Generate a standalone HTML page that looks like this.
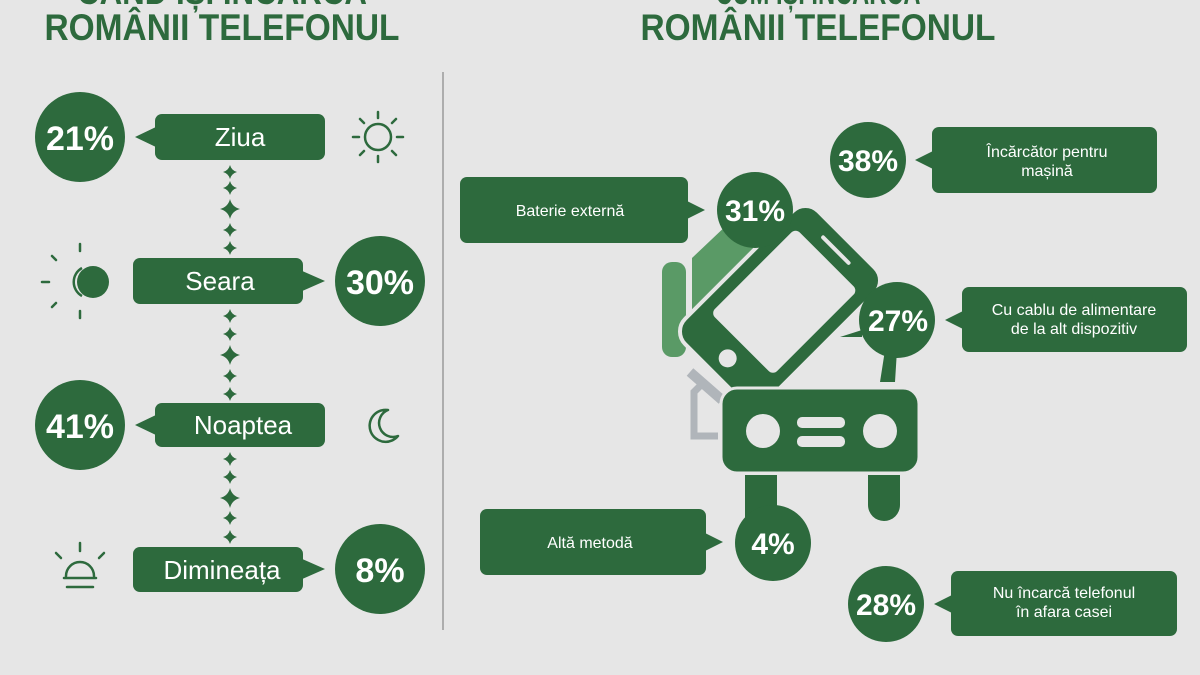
<!DOCTYPE html>
<html><head><meta charset="utf-8"><style>
html,body{margin:0;padding:0;background:#e6e6e6;}
svg{display:block;}
text{font-family:"Liberation Sans",sans-serif;}
</style></head><body>
<svg width="1200" height="675" viewBox="0 0 1200 675" xmlns="http://www.w3.org/2000/svg">
<defs>
<g id="d"><path d="M0,-7 Q1.5,-1.5 7,0 Q1.5,1.5 0,7 Q-1.5,1.5 -7,0 Q-1.5,-1.5 0,-7Z" fill="#2d6a3d"/></g>
<g id="D"><path d="M0,-10 Q2,-2 10,0 Q2,2 0,10 Q-2,2 -10,0 Q-2,-2 0,-10Z" fill="#2d6a3d"/></g>
</defs>
<rect width="1200" height="675" fill="#e6e6e6"/>
<g fill="#2d6a3d" font-weight="bold" font-size="37">
<text x="222" y="4" text-anchor="middle" textLength="290" lengthAdjust="spacingAndGlyphs">CÂND ÎȘI ÎNCARCĂ</text>
<text x="222" y="40" text-anchor="middle" textLength="355" lengthAdjust="spacingAndGlyphs">ROMÂNII TELEFONUL</text>
<text x="818" y="4" text-anchor="middle" textLength="205" lengthAdjust="spacingAndGlyphs">CUM ÎȘI ÎNCARCĂ</text>
<text x="818" y="40" text-anchor="middle" textLength="355" lengthAdjust="spacingAndGlyphs">ROMÂNII TELEFONUL</text>
</g>
<line x1="443" y1="72" x2="443" y2="630" stroke="#9a9a9a" stroke-width="1.5"/>

<g>
<use href="#d" x="230" y="172"/><use href="#d" x="230" y="188"/><use href="#D" x="230" y="209"/><use href="#d" x="230" y="230"/><use href="#d" x="230" y="248"/>
<use href="#d" x="230" y="316"/><use href="#d" x="230" y="334"/><use href="#D" x="230" y="355"/><use href="#d" x="230" y="376"/><use href="#d" x="230" y="394"/>
<use href="#d" x="230" y="459"/><use href="#d" x="230" y="477"/><use href="#D" x="230" y="498"/><use href="#d" x="230" y="518"/><use href="#d" x="230" y="537"/>
</g>

<g fill="#2d6a3d">
<circle cx="80" cy="137" r="45"/>
<rect x="155" y="114" width="170" height="46" rx="7"/><path d="M158,126 L135,137 L158,148Z"/>
<rect x="133" y="258" width="170" height="46" rx="7"/><path d="M300,270 L325,281 L300,292Z"/>
<circle cx="380" cy="281" r="45"/>
<circle cx="80" cy="425" r="45"/>
<rect x="155" y="403" width="170" height="44" rx="7"/><path d="M158,414 L135,425 L158,436Z"/>
<rect x="133" y="547" width="170" height="45" rx="7"/><path d="M300,558 L325,569 L300,580Z"/>
<circle cx="380" cy="569" r="45"/>
</g>
<g fill="#fff" font-weight="bold" font-size="34" text-anchor="middle">
<text x="80" y="150">21%</text><text x="380" y="294">30%</text><text x="80" y="438">41%</text><text x="380" y="582">8%</text>
</g>
<g fill="#fff" font-size="26" text-anchor="middle">
<text x="240" y="146">Ziua</text><text x="220" y="290">Seara</text><text x="243" y="434">Noaptea</text><text x="222" y="579">Dimineața</text>
</g>
<g stroke="#2d6a3d" stroke-width="2.5" fill="none" stroke-linecap="round">
<circle cx="378" cy="137" r="13"/>
<path d="M378,112v6M378,156v6M353,137h6M397,137h6M360,119l4,4M392,151l4,4M396,119l-4,4M364,151l-4,4"/>
<path d="M80,244v7M80,311v7M42,282h7M52,256l4,4M52,307l4,-4"/>
<path d="M80,543v8M56,553l5,5M104,553l-5,5M66,576 A14,14 0 0 1 94,576M64,578h32M67,587h26"/>
</g>
<circle cx="93" cy="282" r="16" fill="#2d6a3d"/>
<path d="M82,268 A16,16 0 0 0 82,296" stroke="#2d6a3d" stroke-width="2.5" fill="none"/>
<path d="M388,410 A16,16 0 1 0 398,436 A13,13 0 0 1 388,410Z" stroke="#2d6a3d" stroke-width="2.5" fill="none" stroke-linejoin="round"/>

<!-- right: illustration -->
<rect x="662" y="262" width="24" height="95" rx="10" fill="#5a9a66"/>
<path d="M692,258 L730,222 L780,238 Q795,250 782,265 L740,265 L692,310Z" fill="#5a9a66"/>
<path d="M690,372 L722,400" stroke="#b0b5ba" stroke-width="10"/>
<path d="M700,386 L694,392 L694,436 L718,436" stroke="#b0b5ba" stroke-width="7" fill="none"/>
<g transform="rotate(45 780 306)">
<rect x="722" y="212" width="116" height="188" rx="18" fill="#2d6a3d" stroke="#e6e6e6" stroke-width="4"/>
<rect x="736" y="240" width="88" height="120" rx="6" fill="#e6e6e6"/>
<circle cx="780" cy="380" r="9" fill="#e6e6e6"/>
<rect x="760" y="225" width="40" height="4" rx="2" fill="#e6e6e6"/>
</g>
<rect x="721" y="388" width="198" height="85" rx="16" fill="#2d6a3d" stroke="#e6e6e6" stroke-width="3"/>
<circle cx="763" cy="431" r="17" fill="#e6e6e6"/><circle cx="880" cy="431" r="17" fill="#e6e6e6"/>
<rect x="797" y="417" width="48" height="11" rx="5" fill="#e6e6e6"/><rect x="797" y="436" width="48" height="11" rx="5" fill="#e6e6e6"/>
<path d="M745,475 h32 v45 a16,16 0 0 1 -32,0Z M868,475 h32 v30 a16,16 0 0 1 -32,0Z" fill="#2d6a3d"/>
<path d="M885,350 L880,382 L895,382 L897,350Z" fill="#2d6a3d"/>

<g fill="#2d6a3d">
<circle cx="868" cy="160" r="38"/>
<rect x="932" y="127" width="225" height="66" rx="7"/><path d="M935,150 L915,160 L935,170Z"/>
<rect x="460" y="177" width="228" height="66" rx="7"/><path d="M685,200 L705,210 L685,220Z"/>
<circle cx="755" cy="210" r="38"/>
<circle cx="897" cy="320" r="38"/>
<rect x="962" y="287" width="225" height="65" rx="7"/><path d="M965,310 L945,320 L965,330Z"/>
<path d="M862,330 L840,337 L862,337Z"/>
<rect x="480" y="509" width="226" height="66" rx="7"/><path d="M703,532 L723,542 L703,552Z"/>
<circle cx="773" cy="543" r="38"/>
<circle cx="886" cy="604" r="38"/>
<rect x="951" y="571" width="226" height="65" rx="7"/><path d="M954,594 L934,604 L954,614Z"/>
</g>
<g fill="#fff" font-weight="bold" font-size="30" text-anchor="middle">
<text x="868" y="171">38%</text><text x="755" y="221">31%</text><text x="898" y="331">27%</text><text x="773" y="554">4%</text><text x="886" y="615">28%</text>
</g>
<g fill="#fff" font-size="16" text-anchor="middle">
<text x="1047" y="157">Încărcător pentru</text><text x="1047" y="176">mașină</text>
<text x="570" y="216">Baterie externă</text>
<text x="1074" y="315">Cu cablu de alimentare</text><text x="1074" y="334">de la alt dispozitiv</text>
<text x="590" y="548">Altă metodă</text>
<text x="1064" y="598">Nu încarcă telefonul</text><text x="1064" y="617">în afara casei</text>
</g>
</svg>
</body></html>
